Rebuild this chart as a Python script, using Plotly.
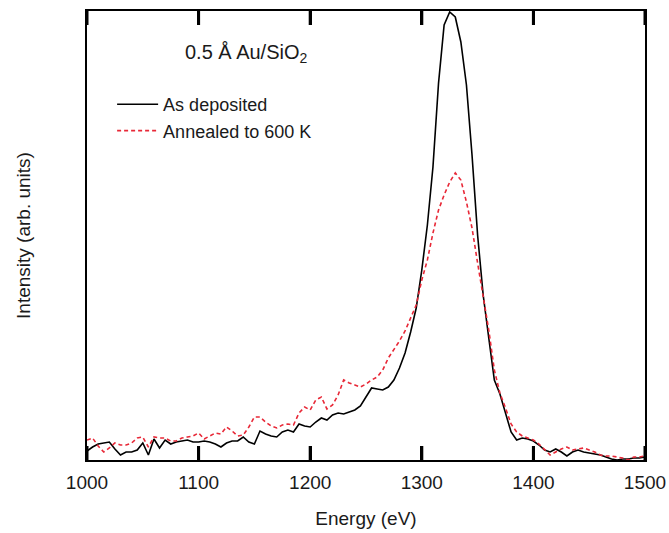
import plotly.graph_objects as go

energy = list(range(1000, 1505, 5))

as_deposited = [
    9, 13, 16, 17, 18, 11, 5, 8, 8, 10,
    17, 5, 21, 12, 20, 16, 18, 19, 20, 18,
    18, 19, 18, 16, 13, 17, 19, 19, 23, 18,
    16, 29, 26, 24, 23, 28, 30, 28, 36, 34,
    33, 38, 42, 40, 45, 47, 46, 48, 50, 54,
    63, 72, 71, 70, 73, 80, 92, 107, 128, 152,
    190, 235, 293, 377, 435, 448, 443, 418, 375, 305,
    225, 165, 122, 80, 66, 48, 28, 20, 22, 21,
    19, 15, 10, 8, 11, 8, 4, 8, 10, 8,
    7, 6, 5, 3, 1, 0, 1, 1, 2, 2,
    3,
]

annealed = [
    20, 22, 14, 8, 12, 17, 15, 15, 17, 22,
    23, 13, 23, 22, 22, 19, 19, 22, 23, 24,
    27, 21, 24, 27, 26, 33, 29, 24, 25, 33,
    43, 43, 38, 34, 32, 35, 36, 35, 47, 53,
    50, 60, 63, 51, 55, 65, 80, 77, 75, 73,
    76, 80, 83, 90, 102, 110, 119, 129, 142, 155,
    180, 200, 227, 250, 265, 278, 287, 280, 258, 232,
    197, 163, 130, 90, 67, 52, 36, 28, 24, 22,
    20, 16, 10, 5, 8, 11, 13, 10, 11, 12,
    10, 8, 5, 4, 4, 3, 2, 0, 3, 3,
    4,
]

series_names = ["As deposited", "Annealed to 600 K"]
x_ticks = [1000, 1100, 1200, 1300, 1400, 1500]

FONT = "Liberation Sans, Arial, sans-serif"
TXT = "#1a1a1a"
Y_MAX = 449
TICK_LEN = 14  # in y-axis units (1 unit = 1 px here)

fig = go.Figure()
fig.add_trace(go.Scatter(
    x=energy, y=as_deposited, mode="lines", name=series_names[0],
    line=dict(color="black", width=1.6),
))
fig.add_trace(go.Scatter(
    x=energy, y=annealed, mode="lines", name=series_names[1],
    line=dict(color="rgb(232,40,55)", width=1.6, dash="4px,3px"),
))

# inner tick marks on the bottom and top frame, positioned through the x axis
tx, ty = [], []
for t in x_ticks:
    tx += [t, t, None, t, t, None]
    ty += [0, TICK_LEN, None, Y_MAX - TICK_LEN, Y_MAX, None]
fig.add_trace(go.Scatter(
    x=tx, y=ty, mode="lines", showlegend=False, hoverinfo="skip",
    line=dict(color="black", width=3), connectgaps=False,
))

fig.update_layout(
    width=669, height=533,
    margin=dict(l=87, r=24, t=11, b=73, autoexpand=False),
    paper_bgcolor="white", plot_bgcolor="white",
    font=dict(family=FONT, size=19, color=TXT),
    showlegend=True,
    legend=dict(
        x=0.045, y=0.833, xanchor="left", yanchor="top",
        bgcolor="rgba(0,0,0,0)", borderwidth=0,
        font=dict(family=FONT, size=18, color=TXT),
        tracegroupgap=0, itemwidth=41,
    ),
    annotations=[dict(
        text="0.5 Å Au/SiO<sub>2</sub>", xref="paper", yref="paper",
        x=0.285, y=0.905, xanchor="center", yanchor="middle",
        showarrow=False, font=dict(family=FONT, size=20, color=TXT),
    )],
)

fig.update_xaxes(
    range=[1000, 1500], tickmode="array", tickvals=x_ticks, automargin=False,
    ticks="inside", ticklen=14, tickwidth=3, tickcolor="black", ticklabelstandoff=4,
    showline=True, linewidth=2, linecolor="black", mirror="allticks",
    showgrid=False, zeroline=False,
    title=dict(text="Energy (eV)", font=dict(family=FONT, size=19, color=TXT), standoff=20),
)
fig.update_yaxes(
    range=[0, Y_MAX], showticklabels=False, ticks="", automargin=False,
    showline=True, linewidth=2, linecolor="black", mirror=True,
    showgrid=False, zeroline=False,
    title=dict(text="Intensity (arb. units)", font=dict(family=FONT, size=19, color=TXT), standoff=49),
)

fig.write_html("out.html", config={"displayModeBar": False},
               post_script="document.body.style.margin='0';document.body.style.padding='0';")
